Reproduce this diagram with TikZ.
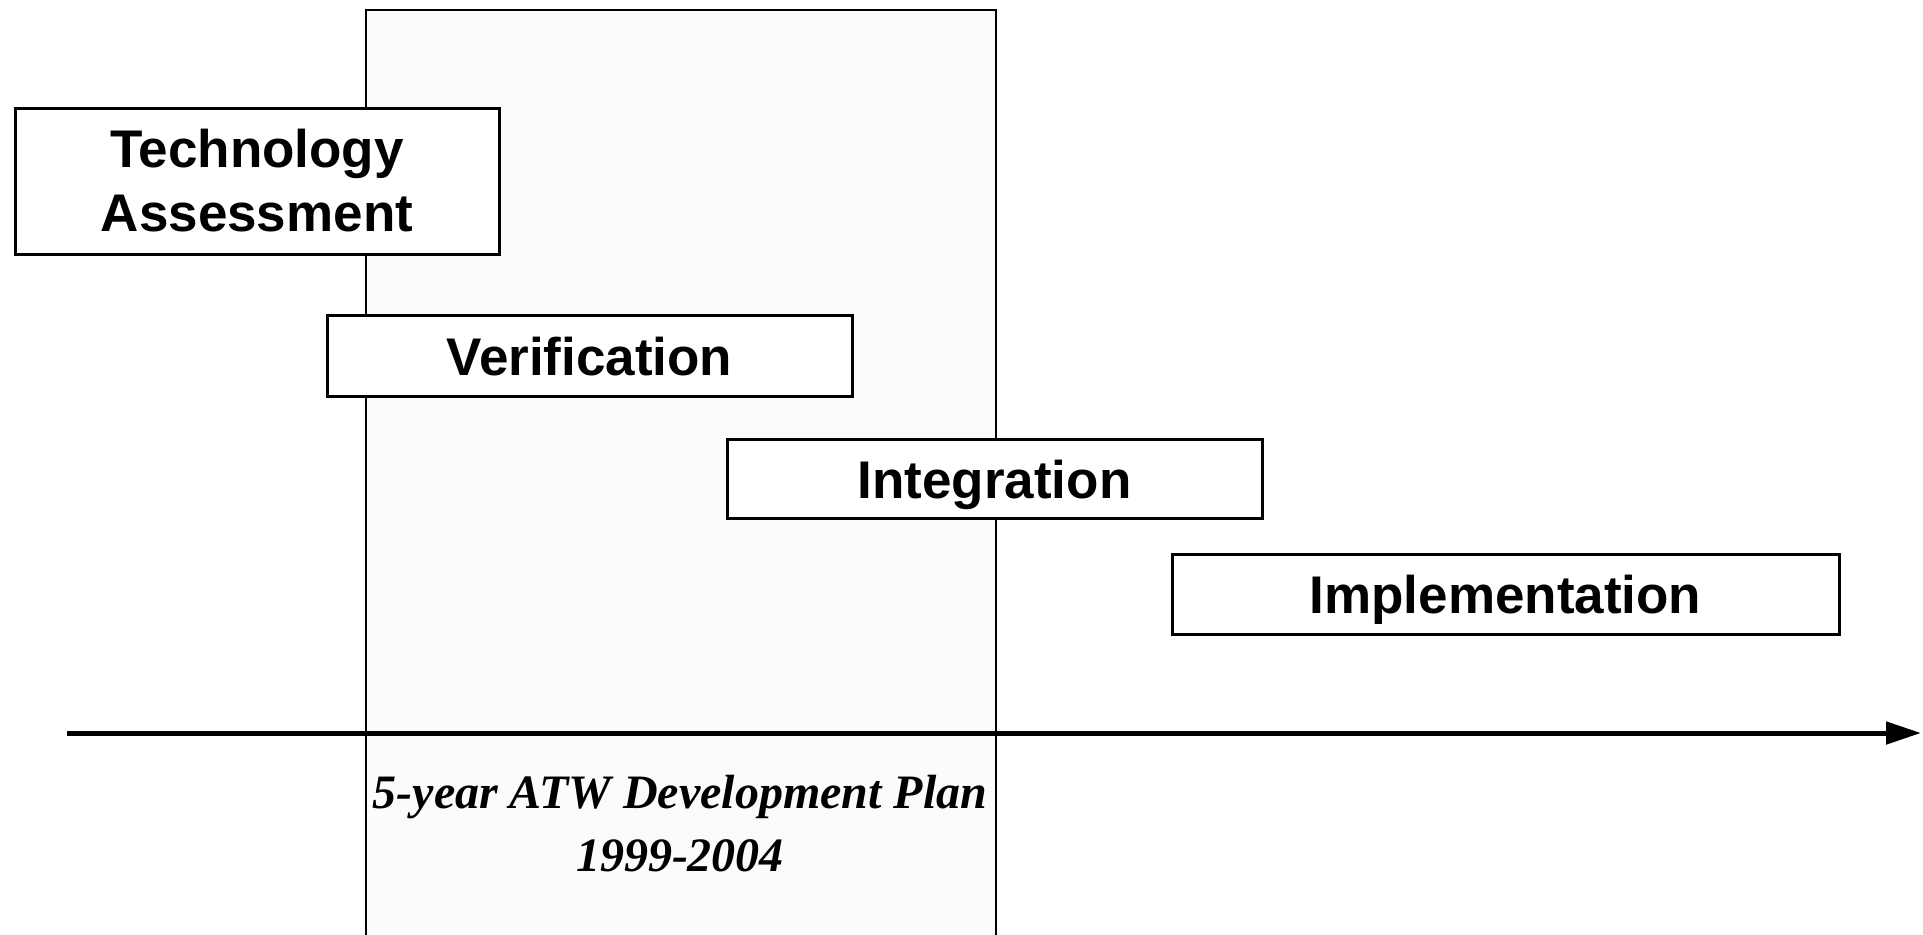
\documentclass[tikz,border=0pt]{standalone}
\usepackage{fontspec}
\usetikzlibrary{arrows.meta}
\newfontfamily\boxfont{Liberation Sans}
\newfontfamily\planfont{Liberation Serif}
\begin{document}
\begin{tikzpicture}[x=0.5pt,y=-0.5pt,
  phase/.style={draw=black, line width=1.5pt, fill=white, inner sep=0pt,
    font=\boxfont\bfseries\fontsize{26.5pt}{32pt}\selectfont, align=center},
  oneline/.style={text height=19pt, text depth=0pt},
  planfill/.style={fill=black!1.5},
  planline/.style={draw=black, line width=1.2pt},
  axisline/.style={line width=2.5pt, -{Triangle[length=17.5pt,width=11pt]}},
  plantext/.style={font=\planfont\bfseries\itshape\fontsize{24pt}{31.5pt}\selectfont, inner sep=0pt}]
\useasboundingbox (0,0) rectangle (1923,934);
% plan frame
\fill[planfill] (366,10) rectangle (996,940);
\coordinate (pbl) at (366,940);
\coordinate (ptl) at (366,10);
\coordinate (ptr) at (996,10);
\coordinate (pbr) at (996,940);
\draw[planline] (pbl) -- (ptl) -- (ptr) -- (pbr);
% axis
\coordinate (axstart) at (67,733);
\coordinate (axend) at (1921,733);
\draw[axisline] (axstart) -- (axend);
% phases
\node[phase, minimum width=242pt, minimum height=73pt] (tech) at (257,181) {Technology\\Assessment};
\node[phase, oneline, minimum width=262.5pt, minimum height=40.5pt] (verif) at (589.5,356) {Verification};
\node[phase, oneline, minimum width=267.5pt, minimum height=39.5pt] (integ) at (994.5,479) {Integration};
\node[phase, oneline, minimum width=333.5pt, minimum height=40pt] (impl) at (1505.5,594) {Implementation};
% plan label
\node[plantext, anchor=base] (plan1) at (680,808) {5-year ATW Development Plan};
\node[plantext, anchor=base] (plan2) at (680,871) {1999-2004};
\end{tikzpicture}
\end{document}
